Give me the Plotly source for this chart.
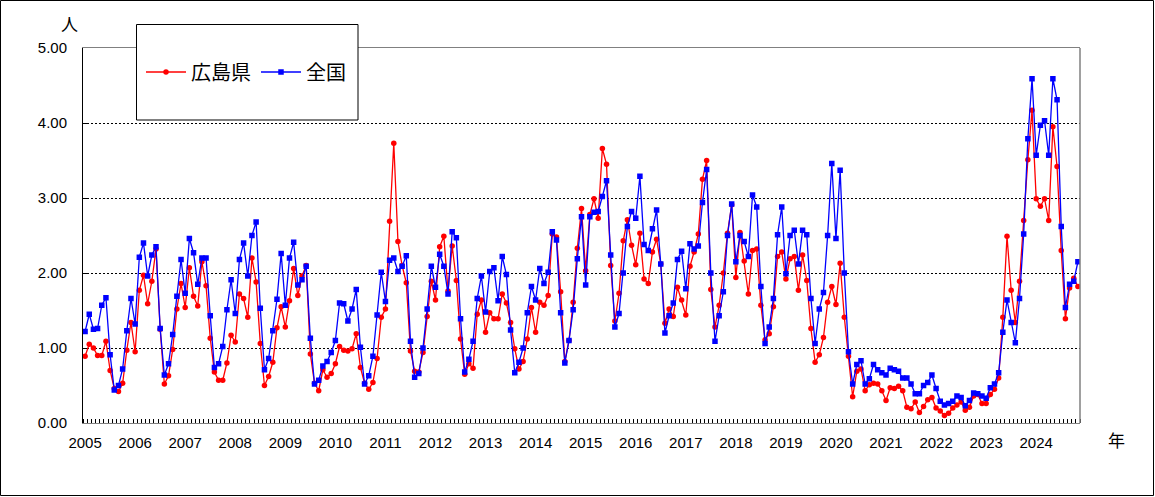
import plotly.graph_objects as go

years = [str(y) for y in range(2005, 2025)]

hiroshima = [
    0.89, 1.05, 1.00, 0.90, 0.90, 1.09, 0.70, 0.46, 0.42, 0.53, 0.97, 1.34,
    0.95, 1.77, 1.97, 1.59, 1.89, 2.32, 1.25, 0.52, 0.63, 0.98, 1.52, 1.86,
    1.54, 2.07, 1.69, 1.56, 2.15, 1.83, 1.13, 0.68, 0.57, 0.57, 0.80, 1.17,
    1.08, 1.72, 1.66, 1.41, 2.20, 1.88, 1.06, 0.50, 0.62, 0.81, 1.27, 1.55,
    1.28, 1.63, 2.06, 1.70, 1.96, 2.10, 0.92, 0.53, 0.43, 0.71, 0.61, 0.66,
    0.79, 1.02, 0.97, 0.96, 0.99, 1.19, 0.74, 0.53, 0.45, 0.54, 0.86, 1.41,
    1.52, 2.69, 3.73, 2.42, 2.10, 1.87, 0.96, 0.69, 0.68, 0.94, 1.42, 1.89,
    1.64, 2.35, 2.49, 1.76, 2.36, 1.90, 1.12, 0.65, 0.79, 0.73, 1.45, 1.64,
    1.21, 1.47, 1.39, 1.39, 1.72, 1.60, 1.34, 0.99, 0.72, 0.82, 1.12, 1.54,
    1.21, 1.61, 1.57, 1.70, 2.52, 2.48, 1.75, 0.82, 1.10, 1.61, 2.33, 2.86,
    2.03, 2.78, 2.99, 2.73, 3.66, 3.45, 2.10, 1.36, 1.73, 2.43, 2.71, 2.37,
    2.11, 2.53, 1.92, 1.86, 2.28, 2.45, 2.12, 1.33, 1.52, 1.42, 1.81, 1.64,
    1.44, 2.09, 2.28, 2.52, 3.25, 3.50, 1.78, 1.28, 1.57, 2.00, 2.53, 2.91,
    1.94, 2.54, 2.16, 1.72, 2.30, 2.32, 1.57, 1.11, 1.19, 1.55, 2.22, 2.28,
    1.92, 2.19, 2.22, 1.77, 2.24, 1.90, 1.26, 0.81, 0.91, 1.14, 1.61, 1.82,
    1.58, 2.13, 1.41, 0.89, 0.35, 0.69, 0.72, 0.43, 0.51, 0.53, 0.52, 0.43,
    0.30, 0.47, 0.46, 0.49, 0.43, 0.21, 0.19, 0.28, 0.14, 0.22, 0.31, 0.34,
    0.20, 0.16, 0.10, 0.13, 0.20, 0.24, 0.28, 0.17, 0.21, 0.36, 0.38, 0.26,
    0.26, 0.38, 0.45, 0.60, 1.41, 2.49, 1.77, 1.34, 1.89, 2.70, 3.51, 4.17,
    2.99, 2.89, 2.99, 2.70, 3.95, 3.42, 2.30, 1.39, 1.80, 1.93, 1.82,
]

national = [
    1.22, 1.45, 1.25, 1.26, 1.57, 1.67, 0.91, 0.44, 0.50, 0.72, 1.23, 1.66,
    1.32, 2.21, 2.40, 1.96, 2.24, 2.35, 1.26, 0.64, 0.79, 1.18, 1.69, 2.18,
    1.73, 2.46, 2.27, 1.85, 2.20, 2.20, 1.43, 0.74, 0.79, 1.02, 1.51, 1.91,
    1.46, 2.18, 2.40, 1.96, 2.50, 2.68, 1.53, 0.71, 0.86, 1.23, 1.65, 2.26,
    1.57, 2.20, 2.41, 1.84, 1.91, 2.09, 1.13, 0.52, 0.57, 0.76, 0.82, 0.94,
    1.10, 1.60, 1.59, 1.36, 1.52, 1.78, 1.01, 0.52, 0.63, 0.89, 1.44, 2.01,
    1.62, 2.17, 2.20, 2.02, 2.09, 2.23, 1.09, 0.61, 0.66, 1.00, 1.52, 2.09,
    1.81, 2.25, 2.09, 1.72, 2.55, 2.47, 1.39, 0.68, 0.85, 1.09, 1.66, 1.96,
    1.48, 2.02, 2.07, 1.63, 2.22, 1.98, 1.24, 0.67, 0.81, 1.00, 1.47, 1.82,
    1.64, 2.06, 1.86, 2.01, 2.55, 2.44, 1.47, 0.80, 1.10, 1.51, 2.19, 2.75,
    1.84, 2.75, 2.81, 2.82, 3.02, 3.23, 2.24, 1.28, 1.46, 2.00, 2.62, 2.82,
    2.73, 3.29, 2.38, 2.30, 2.59, 2.84, 2.12, 1.20, 1.43, 1.60, 2.18, 2.29,
    1.79, 2.39, 2.32, 2.36, 2.94, 3.38, 2.00, 1.09, 1.43, 1.75, 2.50, 2.92,
    2.15, 2.50, 2.42, 2.22, 3.04, 2.88, 1.82, 1.06, 1.28, 1.66, 2.51, 2.88,
    1.99, 2.50, 2.57, 2.12, 2.57, 2.51, 1.66, 1.06, 1.52, 1.74, 2.50, 3.46,
    2.46, 3.37, 2.00, 0.95, 0.52, 0.78, 0.83, 0.52, 0.59, 0.78, 0.71, 0.67,
    0.64, 0.73, 0.71, 0.69, 0.60, 0.60, 0.52, 0.39, 0.39, 0.50, 0.54, 0.64,
    0.46, 0.29, 0.24, 0.26, 0.29, 0.36, 0.34, 0.23, 0.30, 0.40, 0.39, 0.36,
    0.33, 0.47, 0.52, 0.67, 1.21, 1.64, 1.34, 1.07, 1.66, 2.52, 3.79, 4.59,
    3.57, 3.97, 4.03, 3.57, 4.59, 4.31, 2.62, 1.54, 1.85, 1.89, 2.15,
]

y_ticks = [0, 1, 2, 3, 4, 5]
series_names = ["広島県", "全国"]

n = len(national)
months = list(range(n))
year_ticks = [12 * k for k in range(len(years))]

W, H = 1155, 497
L, R, T, B = 83, 75, 48, 74
pw, ph = W - L - R, H - T - B


def px(xp):
    return (xp - L) / pw


def py(yp):
    return (H - B - yp) / ph


JP = "Noto Sans CJK JP"
NUM = "Liberation Sans, Arial"

fig = go.Figure()
fig.add_trace(go.Scatter(
    x=months, y=hiroshima, name=series_names[0], mode="lines+markers",
    line=dict(color="#FF0000", width=1.3),
    marker=dict(symbol="circle", size=5.5, color="#FF0000"),
))
fig.add_trace(go.Scatter(
    x=months, y=national, name=series_names[1], mode="lines+markers",
    line=dict(color="#0000FF", width=1.3),
    marker=dict(symbol="square", size=5.5, color="#0000FF"),
))

fig.update_layout(
    width=W, height=H,
    margin=dict(l=L, r=R, t=T, b=B, pad=0),
    paper_bgcolor="white", plot_bgcolor="white",
    showlegend=True,
    legend=dict(
        orientation="h", x=px(141), xanchor="left", y=py(72), yanchor="middle",
        font=dict(family=JP, size=20, color="black"),
        bgcolor="rgba(0,0,0,0)", borderwidth=0, itemwidth=40,
        traceorder="normal",
    ),
    xaxis=dict(
        range=[-0.5, n - 0.5], tickmode="array", tickvals=year_ticks,
        ticktext=years, ticks="", showgrid=False, zeroline=False,
        showline=True, linecolor="#808080", linewidth=1, mirror=True,
        tickfont=dict(family=NUM, size=15, color="black"),
        ticklabelstandoff=6,
        minor=dict(ticks="inside", ticklen=4, tickcolor="black",
                   tickmode="linear", tick0=-0.5, dtick=1, showgrid=False),
    ),
    yaxis=dict(
        range=[0, 5], tickmode="array", tickvals=y_ticks,
        ticktext=[f"{v:.2f}" for v in y_ticks],
        ticks="inside", ticklen=4, tickcolor="black",
        showgrid=True, gridcolor="black", gridwidth=1, griddash="2px,2px",
        zeroline=False, showline=True, linecolor="black", linewidth=1,
        tickfont=dict(family=NUM, size=15, color="black"),
        ticklabelstandoff=12,
    ),
    shapes=[
        dict(type="line", xref="paper", yref="paper", x0=1, x1=1, y0=0, y1=1,
             line=dict(color="#808080", width=1.5)),
        dict(type="rect", xref="paper", yref="paper",
             x0=px(0.5), x1=px(1153.5), y0=py(495.5), y1=py(0.5),
             line=dict(color="black", width=1), fillcolor="rgba(0,0,0,0)"),
        dict(type="rect", xref="paper", yref="paper", layer="above",
             x0=px(136.5), x1=px(358), y0=py(120), y1=py(24.5),
             line=dict(color="black", width=1), fillcolor="white"),
    ],
    annotations=[
        dict(text="人", xref="paper", yref="paper", x=px(69), y=py(24),
             showarrow=False, font=dict(family=JP, size=17, color="black"),
             xanchor="center", yanchor="middle"),
        dict(text="年", xref="paper", yref="paper", x=px(1116), y=py(440),
             showarrow=False, font=dict(family=JP, size=17, color="black"),
             xanchor="center", yanchor="middle"),
    ],
)

fig.write_html(
    "out.html",
    config={"displayModeBar": False, "staticPlot": True},
    post_script="document.body.style.margin='0';document.body.style.overflow='hidden';",
)
